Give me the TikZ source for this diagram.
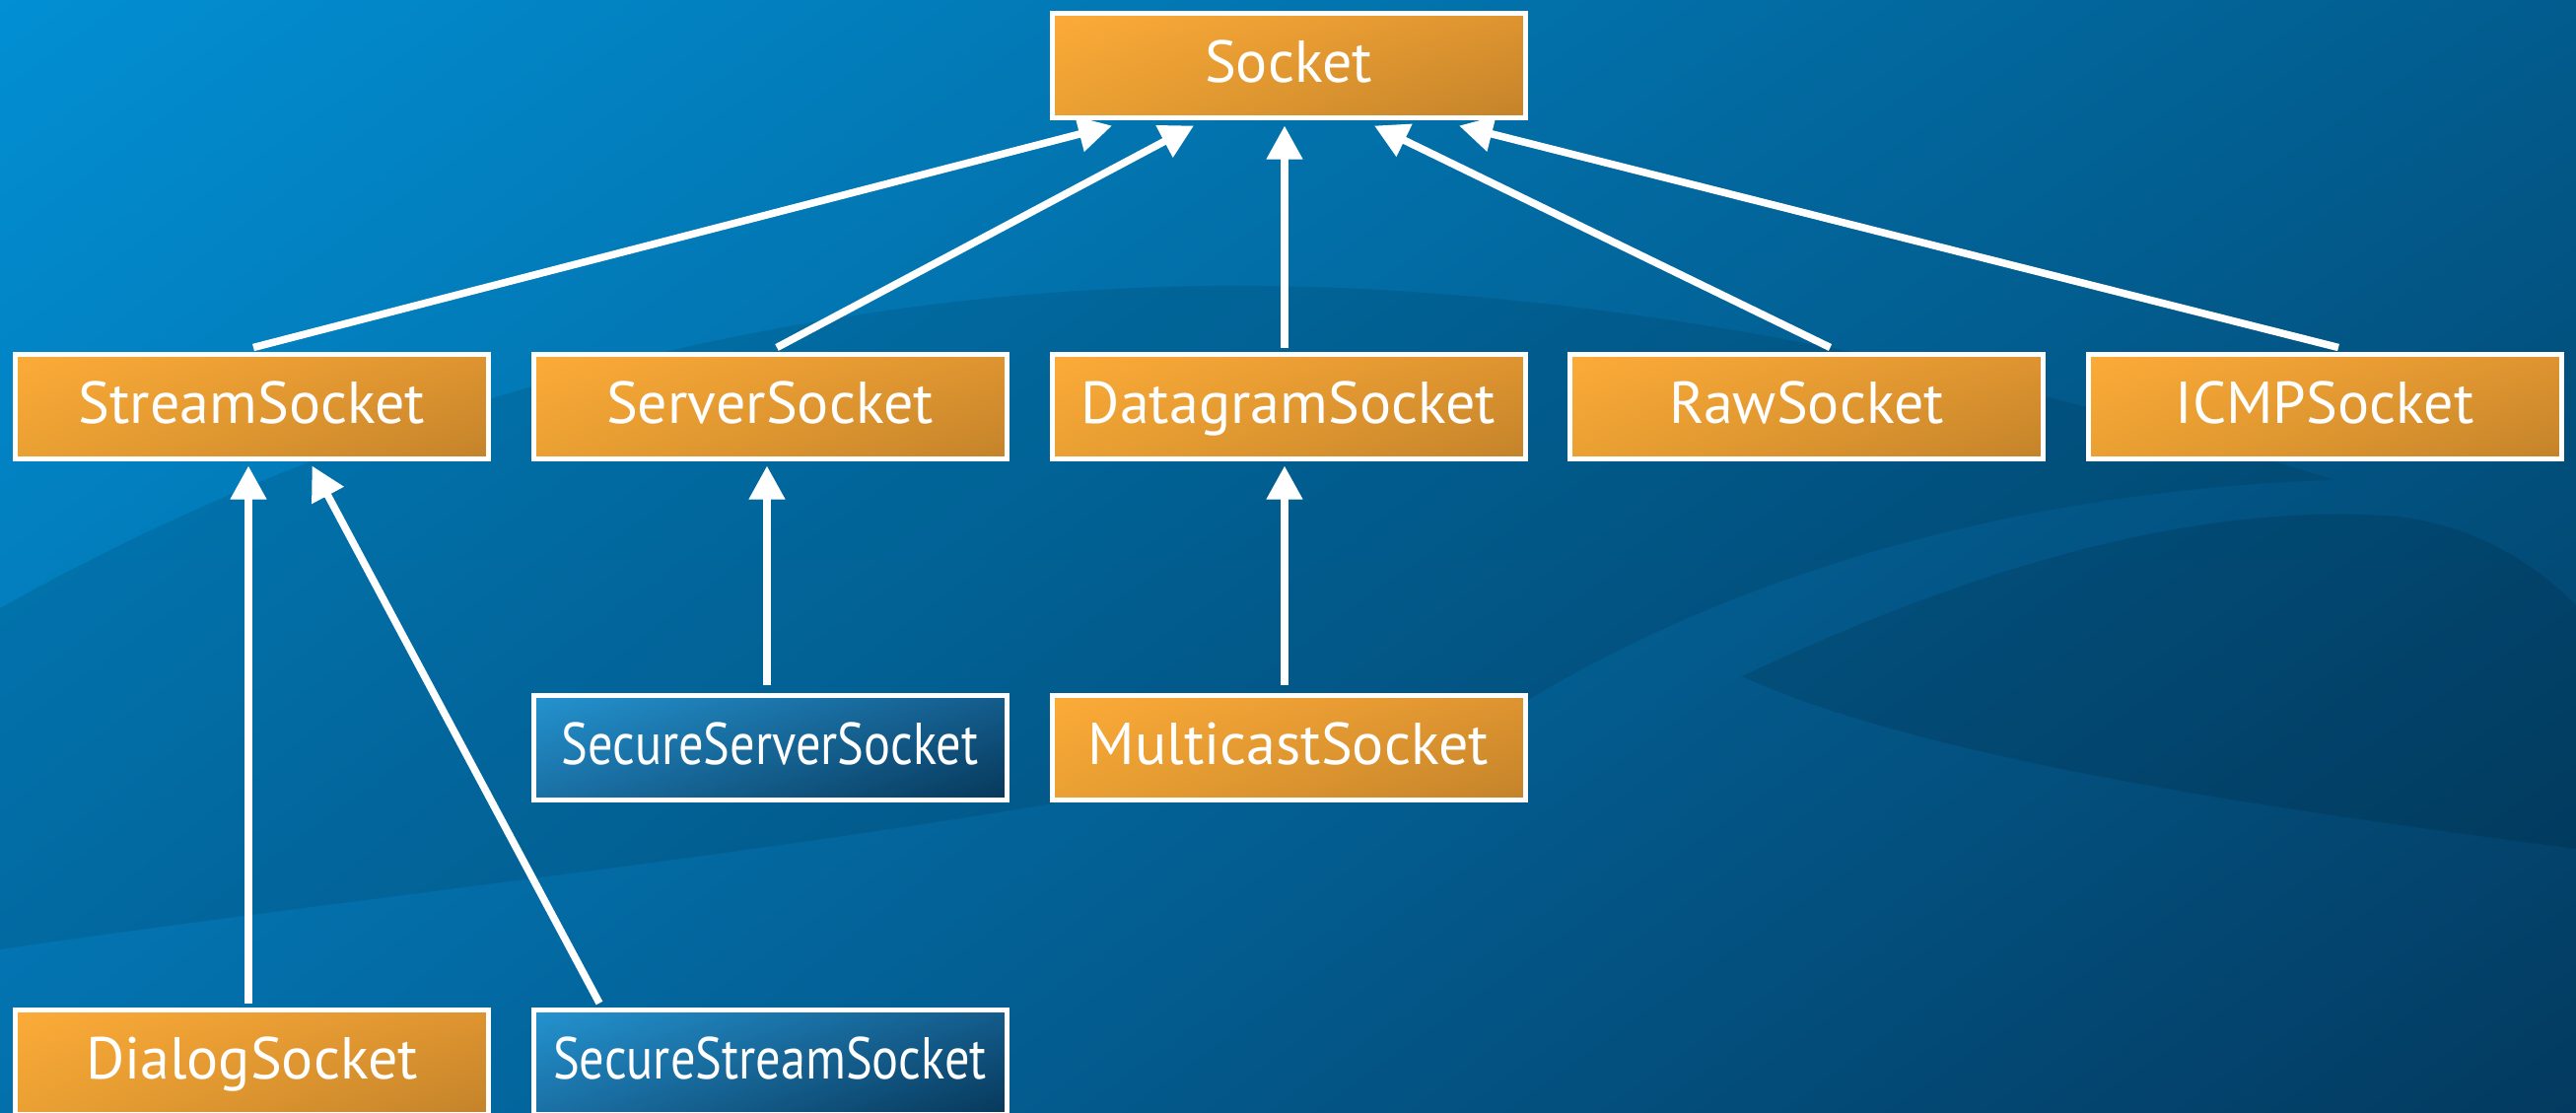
\documentclass[tikz,border=0pt]{standalone}
\usepackage{fontspec}
\setmainfont{PT Sans}
\usetikzlibrary{arrows.meta,calc,shadings}
\definecolor{bgUL}{RGB}{2,143,211}
\definecolor{bgUR}{RGB}{2,92,142}
\definecolor{bgLL}{RGB}{3,112,172}
\definecolor{bgLR}{RGB}{3,58,96}
\definecolor{orUL}{RGB}{252,171,56}
\definecolor{orUR}{RGB}{222,148,48}
\definecolor{orLL}{RGB}{234,160,50}
\definecolor{orLR}{RGB}{196,131,42}
\definecolor{blUL}{RGB}{36,147,207}
\definecolor{blUR}{RGB}{20,92,140}
\definecolor{blLL}{RGB}{26,112,165}
\definecolor{blLR}{RGB}{7,56,90}
\begin{document}
\begin{tikzpicture}[x=1pt,y=-1pt,
  cls/.style={shade, draw=white, line width=5pt, minimum width=480pt, minimum height=106pt,
    inner sep=0pt, text=white, font=\fontsize{60}{62}\selectfont,
    text height=46pt, text depth=12pt,
    upper left=orUL, upper right=orUR, lower left=orLL, lower right=orLR},
  seccls/.style={cls, upper left=blUL, upper right=blUR, lower left=blLL, lower right=blLR},
  inh/.style={draw=white, line width=7.5pt, -{Triangle[length=34pt,width=35pt]}}]
% background
\shade[upper left=bgUL, upper right=bgUR, lower left=bgLL, lower right=bgLR]
  (0,0) rectangle (2613,1128);
\useasboundingbox (0,0) rectangle (2613,1128);
\fill[black, opacity=0.09] (0,617) .. controls (350,420) and (800,285) .. (1280,290)
  .. controls (1700,295) and (2100,400) .. (2367,487)
  .. controls (2100,495) and (1800,560) .. (1550,710)
  .. controls (1150,830) and (500,890) .. (0,963) -- cycle;
\fill[black, opacity=0.11] (1767,686) .. controls (1950,600) and (2200,505) .. (2433,524)
  .. controls (2520,535) and (2580,580) .. (2613,614) -- (2613,861)
  .. controls (2300,820) and (1950,770) .. (1767,686) -- cycle;
% classes
\node[cls] (socket) at (1307,66.5) {Socket};
\node[cls] (stream) at (255.5,412.5) {StreamSocket};
\node[cls] (server) at (781,412.5) {ServerSocket};
\node[cls] (datagram) at (1307,412.5) {DatagramSocket};
\node[cls] (raw) at (1832.5,412.5) {RawSocket};
\node[cls] (icmp) at (2358,412.5) {ICMPSocket};
\node[seccls] (secserver) at (781,758.5) {\scalebox{0.84}[1]{SecureServerSocket}};
\node[cls] (multicast) at (1307,758.5) {MulticastSocket};
\node[cls] (dialog) at (255.5,1077.5) {DialogSocket};
\node[seccls] (secstream) at (781,1077.5) {\scalebox{0.84}[1]{SecureStreamSocket}};
% inheritance arrows
\draw[inh] ($(stream.north)+(1.5,-4.5)$) -- ($(socket.south)+(-179,5.5)$);
\draw[inh] ($(server.north)+(7,-4.5)$) -- ($(socket.south)+(-96,5.5)$);
\draw[inh] ($(datagram.north)+(-4,-4.5)$) -- ($(socket.south)+(-4,5.5)$);
\draw[inh] ($(raw.north)+(24,-4.5)$) -- ($(socket.south)+(87,5.5)$);
\draw[inh] ($(icmp.north)+(14,-4.5)$) -- ($(socket.south)+(173,5.5)$);
\draw[inh] ($(dialog.north)+(-3.5,-4.5)$) -- ($(stream.south)+(-3.5,4.5)$);
\draw[inh] ($(secstream.north)+(-173,-4.5)$) -- ($(stream.south)+(61,4.5)$);
\draw[inh] ($(secserver.north)+(-3,-8.5)$) -- ($(server.south)+(-3,4.5)$);
\draw[inh] ($(multicast.north)+(-4,-8.5)$) -- ($(datagram.south)+(-4,4.5)$);
\end{tikzpicture}
\end{document}
